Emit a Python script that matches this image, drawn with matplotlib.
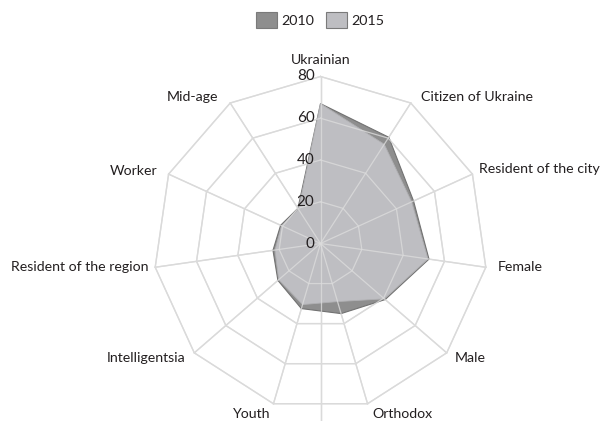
import numpy as np
import matplotlib
matplotlib.use("Agg")
import matplotlib.pyplot as plt
from matplotlib.patches import Patch

plt.rcParams['font.family'] = ['Lato', 'DejaVu Sans']

categories = ["Ukrainian", "Citizen of Ukraine", "Resident of the city", "Female",
              "Male", "Orthodox", "Youth", "Intelligentsia", "Resident of the region",
              "Worker", "Mid-age"]
values_2010 = [67, 60.5, 49, 52.5, 41, 35, 32.5, 27, 23, 21, 20]
values_2015 = [67, 56.5, 48, 52, 40.5, 29, 30.5, 26.5, 22, 20.5, 19.5]
ring_ticks = [0, 20, 40, 60, 80]
series_names = ["2010", "2015"]

# label placement (offset pixels from outer vertex, alignment)
label_style = [
    ((0, 16.5), 'center'),
    ((10, 6), 'left'),
    ((7, 5), 'left'),
    ((12, 0), 'left'),
    ((8, -5), 'left'),
    ((5, -10), 'left'),
    ((-3, -10), 'right'),
    ((-9, -5), 'right'),
    ((-7, 0), 'right'),
    ((-11, 3), 'right'),
    ((-12, 6), 'right'),
]

col_2010 = '#8e8e8e'
col_2015 = '#bebec2'
grid_col = '#d6d6d6'
text_col = '#231f20'

fig = plt.figure(figsize=(6.04, 4.21), dpi=100)
W, H = 604, 421
cx, cy, R = 320.5, 421 - 243.5, 167
ax = fig.add_axes([(cx - R) / W, (cy - R) / H, 2 * R / W, 2 * R / H], projection='polar')
ax.set_theta_zero_location('N')
ax.set_theta_direction(-1)
ax.set_ylim(0, 80)
ax.set_facecolor('none')
ax.axis('off')

n = len(categories)
theta = np.linspace(0, 2 * np.pi, n, endpoint=False)
theta_c = np.append(theta, theta[0])

# grid rings
for t in ring_ticks[1:]:
    ax.plot(theta_c, [t] * (n + 1), color=grid_col, lw=1.0, zorder=1, clip_on=False)
# spokes
for th in theta:
    ax.plot([th, th], [0, ring_ticks[-1]], color=grid_col, lw=1.0, zorder=1, clip_on=False)
# extra vertical line downwards
ax.plot([np.pi, np.pi], [0, 90], color=grid_col, lw=1.0, zorder=1, clip_on=False)

v10 = np.append(values_2010, values_2010[0])
v15 = np.append(values_2015, values_2015[0])
ax.fill(theta_c, v10, facecolor=col_2010, edgecolor='#727272', lw=0.8, zorder=2)
ax.fill(theta_c, v15, facecolor=col_2015, edgecolor='#b0b0b3', lw=0.6, zorder=3)

# grid lines over fill (light)
for t in ring_ticks[1:]:
    ax.plot(theta_c, [t] * (n + 1), color='#dcdcdc', lw=0.9, zorder=4, alpha=0.8, clip_on=False)
for th in theta:
    ax.plot([th, th], [0, ring_ticks[-1]], color='#dcdcdc', lw=0.9, zorder=4, alpha=0.8, clip_on=False)
ax.plot([np.pi, np.pi], [0, 90], color='#dcdcdc', lw=0.9, zorder=4, alpha=0.8, clip_on=False)

# tick labels
for t in ring_ticks:
    ax.annotate(str(t), xy=(0, t), xytext=(-6, 0), textcoords='offset pixels',
                ha='right', va='center', fontsize=11, color=text_col, zorder=5,
                annotation_clip=False)

# category labels
for th, lab, (off, ha) in zip(theta, categories, label_style):
    ax.annotate(lab, xy=(th, ring_ticks[-1]), xytext=off, textcoords='offset pixels',
                ha=ha, va='center', fontsize=10.2, color=text_col, annotation_clip=False)

handles = [Patch(facecolor=col_2010, edgecolor='#7a7a7a', lw=0.8),
           Patch(facecolor=col_2015, edgecolor='#7a7a7a', lw=0.8)]
fig.legend(handles, series_names, loc='center', bbox_to_anchor=(320 / W, 1 - 20 / H),
           ncol=2, frameon=False, fontsize=10.3, handlelength=1.5, handleheight=1.45,
           handletextpad=0.3, columnspacing=0.8, labelcolor=text_col)

fig.savefig('out.png', dpi=100)
